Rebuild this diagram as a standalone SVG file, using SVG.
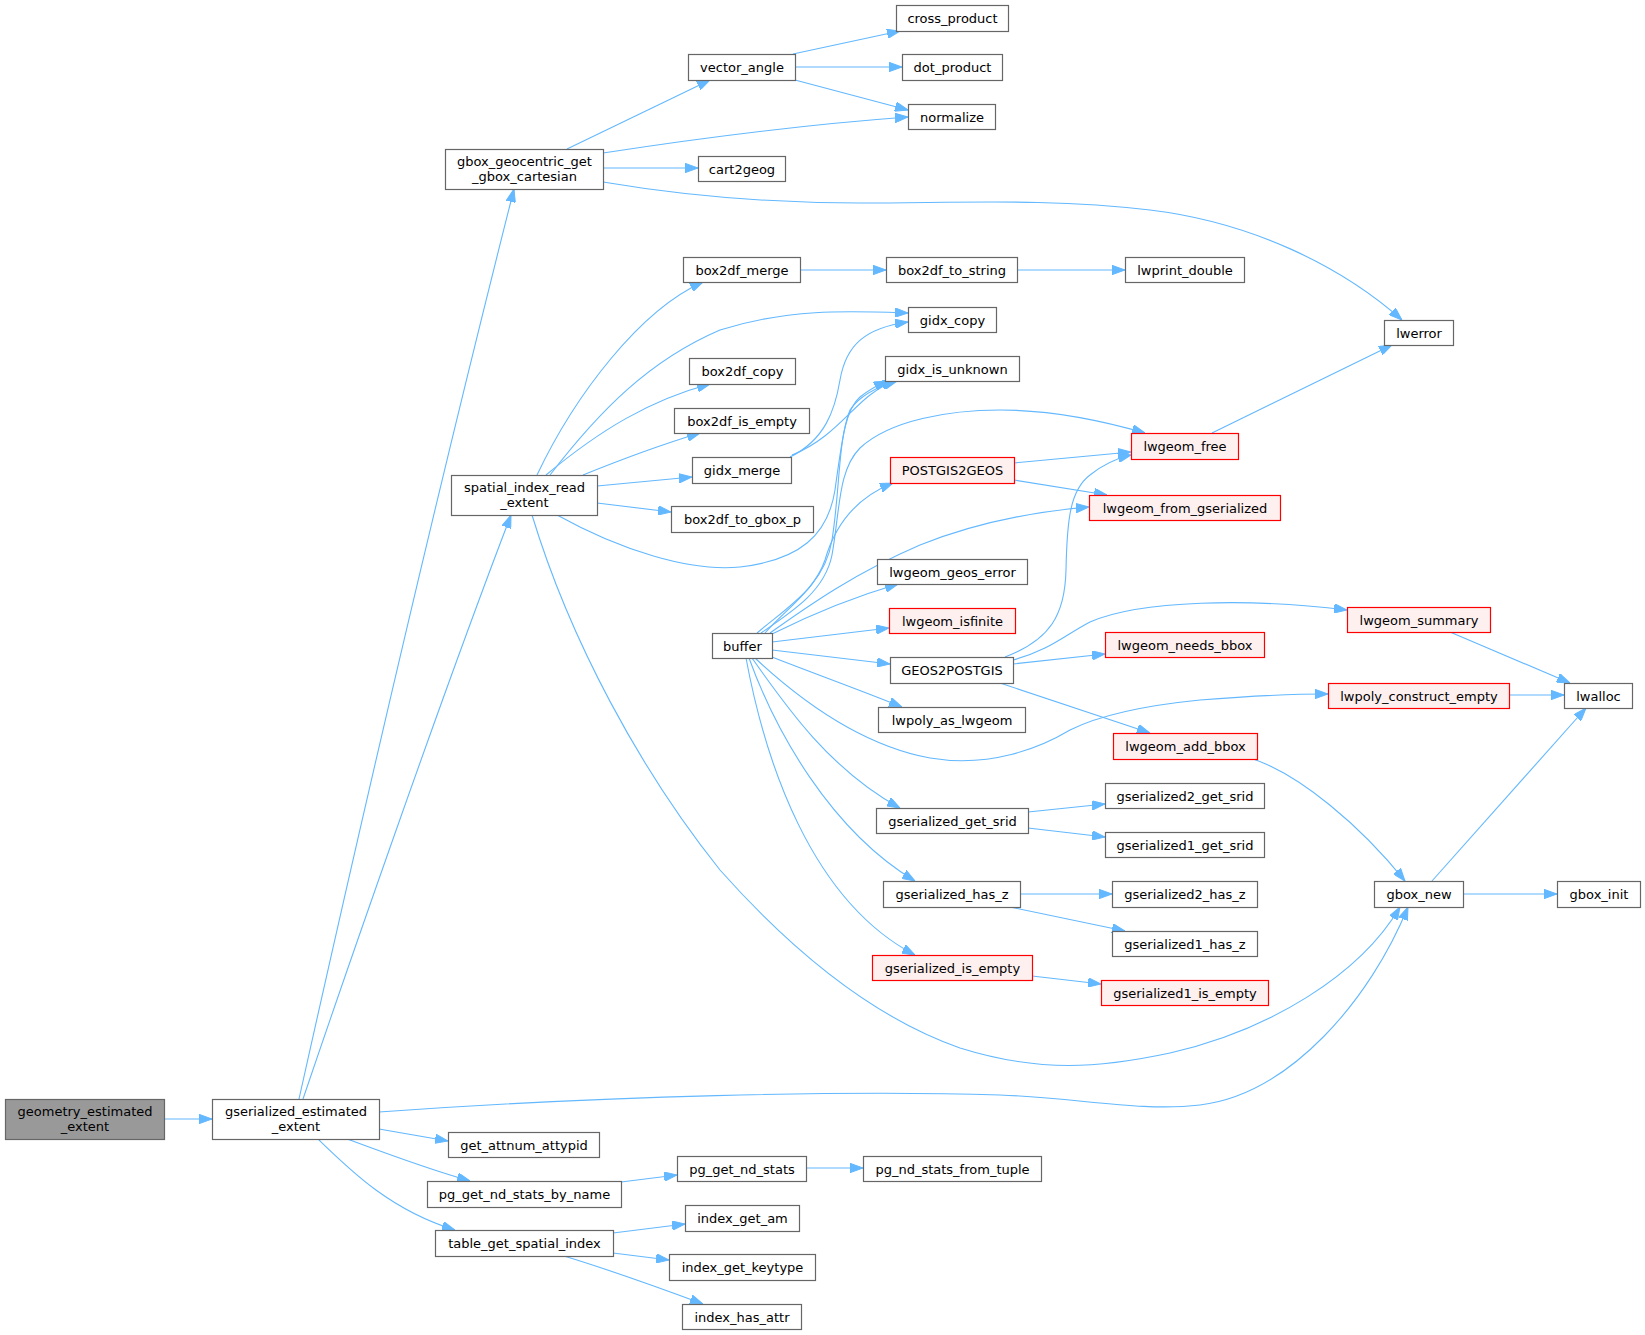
<svg xmlns="http://www.w3.org/2000/svg" width="1645" height="1335" viewBox="0 0 1645 1335">
<style>
.node rect{fill:#ffffff;stroke:#666666;stroke-width:1.2}
.node.red rect{fill:#fff0f0;stroke:#ff0000}
.node.root rect{fill:#999999;stroke:#666666}
.node text{font-family:"DejaVu Sans",sans-serif;font-size:13px;text-anchor:middle;fill:#000000}
.edges path{fill:none;stroke:#63b8ff;stroke-width:1.1;marker-end:url(#arr)}
</style>
<defs>
<marker id="arr" viewBox="0 0 13 9.4" refX="13" refY="4.7" markerWidth="13" markerHeight="9.4" markerUnits="userSpaceOnUse" orient="auto">
<path d="M0,0 L13,4.7 L0,9.4 z" fill="#63b8ff" stroke="#63b8ff" stroke-width="1"/>
</marker>
</defs>
<rect x="0" y="0" width="1645" height="1335" fill="#ffffff"/>
<g id="edges" class="edges">
<path d="M164,1119 L212,1119"/>
<path d="M299,1099 C330,960 420,560 514,189"/>
<path d="M303,1099 C340,990 440,700 511,515"/>
<path d="M379,1112 C600,1096 850,1090 1000,1095 C1080,1098 1140,1112 1200,1105 C1290,1094 1370,1000 1408,907"/>
<path d="M379,1129 L448,1141"/>
<path d="M347,1139 C390,1155 430,1170 470,1181"/>
<path d="M318,1139 C350,1170 390,1210 455,1230"/>
<path d="M567,149 L710,80"/>
<path d="M603,153 C700,138 800,125 908,117"/>
<path d="M603,168 L698,168"/>
<path d="M603,182 C680,195 760,203 860,203 C960,203 1050,198 1150,210 C1250,222 1340,265 1402,320"/>
<path d="M793,54 L900,31"/>
<path d="M795,67 L902,67"/>
<path d="M795,80 L908,110"/>
<path d="M537,475 C575,395 640,310 703,282"/>
<path d="M550,475 C600,410 650,360 720,330 C790,308 850,311 908,313"/>
<path d="M546,475 C600,430 650,400 710,384"/>
<path d="M583,475 C620,460 660,445 700,433"/>
<path d="M597,486 L692,477"/>
<path d="M597,503 L671,512"/>
<path d="M557,515 C620,550 690,572 740,567 C800,560 828,535 835,490 C842,440 845,410 860,397 C870,389 878,385 887,381"/>
<path d="M800,270 L886,270"/>
<path d="M1017,270 L1125,270"/>
<path d="M790,457 C825,440 835,410 840,380 C846,345 865,328 908,322"/>
<path d="M792,455 C830,440 850,410 870,395 C878,389 886,384 895,381"/>
<path d="M757,633 C790,605 825,585 832,540 C840,490 838,440 850,410 C860,395 880,386 897,381"/>
<path d="M761,633 C795,610 825,590 832,555 C840,510 838,470 860,448 C890,420 950,410 1000,410 C1050,410 1100,420 1145,433"/>
<path d="M765,633 C785,610 815,590 825,560 C835,525 855,498 893,483"/>
<path d="M770,633 C800,612 850,575 920,545 C970,525 1030,512 1089,507"/>
<path d="M772,634 C810,615 850,598 898,584"/>
<path d="M772,642 L889,628"/>
<path d="M772,650 L890,664"/>
<path d="M772,657 C810,672 860,690 902,707"/>
<path d="M755,658 C800,700 860,745 930,758 C990,768 1040,748 1070,730 C1100,715 1150,705 1200,700 C1250,696 1290,694 1328,694"/>
<path d="M752,658 C785,705 830,770 900,808"/>
<path d="M749,658 C775,730 830,830 915,881"/>
<path d="M746,658 C765,760 810,900 915,955"/>
<path d="M532,515 C570,640 640,770 720,870 C800,960 880,1020 960,1048 C1040,1073 1100,1068 1170,1053 C1270,1030 1360,975 1400,907"/>
<path d="M1014,463 L1131,452"/>
<path d="M1014,480 L1107,495"/>
<path d="M1005,657 C1050,640 1065,615 1066,570 C1067,520 1070,490 1090,475 C1105,463 1118,458 1131,455"/>
<path d="M1013,660 C1050,650 1065,635 1090,622 C1140,600 1250,598 1347,610"/>
<path d="M1013,664 L1105,654"/>
<path d="M1000,683 L1150,733"/>
<path d="M1212,433 L1392,345"/>
<path d="M1450,632 L1570,683"/>
<path d="M1509,695 L1564,695"/>
<path d="M1253,759 C1300,775 1360,825 1405,881"/>
<path d="M1028,812 L1105,804"/>
<path d="M1028,828 L1105,837"/>
<path d="M1020,894 L1112,894"/>
<path d="M1010,907 L1125,931"/>
<path d="M1032,976 L1101,984"/>
<path d="M1432,881 L1586,708"/>
<path d="M1463,894 L1557,894"/>
<path d="M621,1182 L677,1175"/>
<path d="M806,1168 L863,1168"/>
<path d="M613,1233 L685,1224"/>
<path d="M613,1253 L669,1260"/>
<path d="M564,1256 C610,1270 660,1288 703,1304"/>
</g>
<g id="n1" class="node root"><rect x="5.5" y="1099.5" width="159" height="40"/><text x="85" y="1115.5">geometry_estimated</text><text x="85" y="1130.5">_extent</text></g>
<g id="n2" class="node"><rect x="212.5" y="1099.5" width="167" height="40"/><text x="296" y="1115.5">gserialized_estimated</text><text x="296" y="1130.5">_extent</text></g>
<g id="n3" class="node"><rect x="445.5" y="149.5" width="158" height="40"/><text x="524.5" y="165.5">gbox_geocentric_get</text><text x="524.5" y="180.5">_gbox_cartesian</text></g>
<g id="n4" class="node"><rect x="451.5" y="475.5" width="146" height="40"/><text x="524.5" y="491.5">spatial_index_read</text><text x="524.5" y="506.5">_extent</text></g>
<g id="n5" class="node"><rect x="448.5" y="1132.5" width="151" height="25"/><text x="524" y="1149.5">get_attnum_attypid</text></g>
<g id="n6" class="node"><rect x="427.5" y="1181.5" width="194" height="26"/><text x="524.5" y="1199">pg_get_nd_stats_by_name</text></g>
<g id="n7" class="node"><rect x="435.5" y="1230.5" width="178" height="26"/><text x="524.5" y="1248">table_get_spatial_index</text></g>
<g id="n8" class="node"><rect x="688.5" y="54.5" width="107" height="26"/><text x="742" y="72">vector_angle</text></g>
<g id="n9" class="node"><rect x="896.5" y="5.5" width="112" height="26"/><text x="952.5" y="23">cross_product</text></g>
<g id="n10" class="node"><rect x="902.5" y="54.5" width="100" height="26"/><text x="952.5" y="72">dot_product</text></g>
<g id="n11" class="node"><rect x="908.5" y="104.5" width="87" height="25"/><text x="952" y="121.5">normalize</text></g>
<g id="n12" class="node"><rect x="698.5" y="156.5" width="87" height="25"/><text x="742" y="173.5">cart2geog</text></g>
<g id="n13" class="node"><rect x="683.5" y="257.5" width="117" height="25"/><text x="742" y="274.5">box2df_merge</text></g>
<g id="n14" class="node"><rect x="886.5" y="257.5" width="131" height="25"/><text x="952" y="274.5">box2df_to_string</text></g>
<g id="n15" class="node"><rect x="1125.5" y="257.5" width="119" height="25"/><text x="1185" y="274.5">lwprint_double</text></g>
<g id="n16" class="node"><rect x="908.5" y="307.5" width="88" height="25"/><text x="952.5" y="324.5">gidx_copy</text></g>
<g id="n17" class="node"><rect x="1384.5" y="320.5" width="69" height="25"/><text x="1419" y="337.5">lwerror</text></g>
<g id="n18" class="node"><rect x="689.5" y="358.5" width="106" height="26"/><text x="742.5" y="376">box2df_copy</text></g>
<g id="n19" class="node"><rect x="885.5" y="356.5" width="134" height="25"/><text x="952.5" y="373.5">gidx_is_unknown</text></g>
<g id="n20" class="node"><rect x="674.5" y="408.5" width="135" height="25"/><text x="742" y="425.5">box2df_is_empty</text></g>
<g id="n21" class="node red"><rect x="1131.5" y="433.5" width="107" height="26"/><text x="1185" y="451">lwgeom_free</text></g>
<g id="n22" class="node"><rect x="692.5" y="457.5" width="99" height="26"/><text x="742" y="475">gidx_merge</text></g>
<g id="n23" class="node red"><rect x="890.5" y="457.5" width="124" height="26"/><text x="952.5" y="475">POSTGIS2GEOS</text></g>
<g id="n24" class="node"><rect x="671.5" y="506.5" width="142" height="26"/><text x="742.5" y="524">box2df_to_gbox_p</text></g>
<g id="n25" class="node red"><rect x="1089.5" y="495.5" width="191" height="25"/><text x="1185" y="512.5">lwgeom_from_gserialized</text></g>
<g id="n26" class="node"><rect x="877.5" y="559.5" width="150" height="25"/><text x="952.5" y="576.5">lwgeom_geos_error</text></g>
<g id="n27" class="node"><rect x="712.5" y="633.5" width="60" height="25"/><text x="742.5" y="650.5">buffer</text></g>
<g id="n28" class="node red"><rect x="889.5" y="608.5" width="126" height="25"/><text x="952.5" y="625.5">lwgeom_isfinite</text></g>
<g id="n29" class="node red"><rect x="1347.5" y="607.5" width="143" height="25"/><text x="1419" y="624.5">lwgeom_summary</text></g>
<g id="n30" class="node"><rect x="890.5" y="657.5" width="123" height="26"/><text x="952" y="675">GEOS2POSTGIS</text></g>
<g id="n31" class="node red"><rect x="1105.5" y="632.5" width="159" height="25"/><text x="1185" y="649.5">lwgeom_needs_bbox</text></g>
<g id="n32" class="node red"><rect x="1328.5" y="683.5" width="181" height="25"/><text x="1419" y="700.5">lwpoly_construct_empty</text></g>
<g id="n33" class="node"><rect x="1564.5" y="683.5" width="68" height="25"/><text x="1598.5" y="700.5">lwalloc</text></g>
<g id="n34" class="node"><rect x="878.5" y="707.5" width="147" height="25"/><text x="952" y="724.5">lwpoly_as_lwgeom</text></g>
<g id="n35" class="node red"><rect x="1113.5" y="733.5" width="144" height="26"/><text x="1185.5" y="751">lwgeom_add_bbox</text></g>
<g id="n36" class="node"><rect x="1105.5" y="783.5" width="159" height="25"/><text x="1185" y="800.5">gserialized2_get_srid</text></g>
<g id="n37" class="node"><rect x="876.5" y="808.5" width="152" height="25"/><text x="952.5" y="825.5">gserialized_get_srid</text></g>
<g id="n38" class="node"><rect x="1105.5" y="832.5" width="159" height="25"/><text x="1185" y="849.5">gserialized1_get_srid</text></g>
<g id="n39" class="node"><rect x="1112.5" y="881.5" width="145" height="26"/><text x="1185" y="899">gserialized2_has_z</text></g>
<g id="n40" class="node"><rect x="883.5" y="881.5" width="137" height="26"/><text x="952" y="899">gserialized_has_z</text></g>
<g id="n41" class="node"><rect x="1374.5" y="881.5" width="89" height="26"/><text x="1419" y="899">gbox_new</text></g>
<g id="n42" class="node"><rect x="1557.5" y="881.5" width="83" height="26"/><text x="1599" y="899">gbox_init</text></g>
<g id="n43" class="node"><rect x="1112.5" y="931.5" width="145" height="25"/><text x="1185" y="948.5">gserialized1_has_z</text></g>
<g id="n44" class="node red"><rect x="872.5" y="955.5" width="160" height="25"/><text x="952.5" y="972.5">gserialized_is_empty</text></g>
<g id="n45" class="node red"><rect x="1101.5" y="980.5" width="167" height="25"/><text x="1185" y="997.5">gserialized1_is_empty</text></g>
<g id="n46" class="node"><rect x="677.5" y="1156.5" width="129" height="25"/><text x="742" y="1173.5">pg_get_nd_stats</text></g>
<g id="n47" class="node"><rect x="863.5" y="1156.5" width="178" height="25"/><text x="952.5" y="1173.5">pg_nd_stats_from_tuple</text></g>
<g id="n48" class="node"><rect x="685.5" y="1205.5" width="114" height="26"/><text x="742.5" y="1223">index_get_am</text></g>
<g id="n49" class="node"><rect x="669.5" y="1254.5" width="146" height="26"/><text x="742.5" y="1272">index_get_keytype</text></g>
<g id="n50" class="node"><rect x="682.5" y="1304.5" width="119" height="25"/><text x="742" y="1321.5">index_has_attr</text></g>
</svg>
